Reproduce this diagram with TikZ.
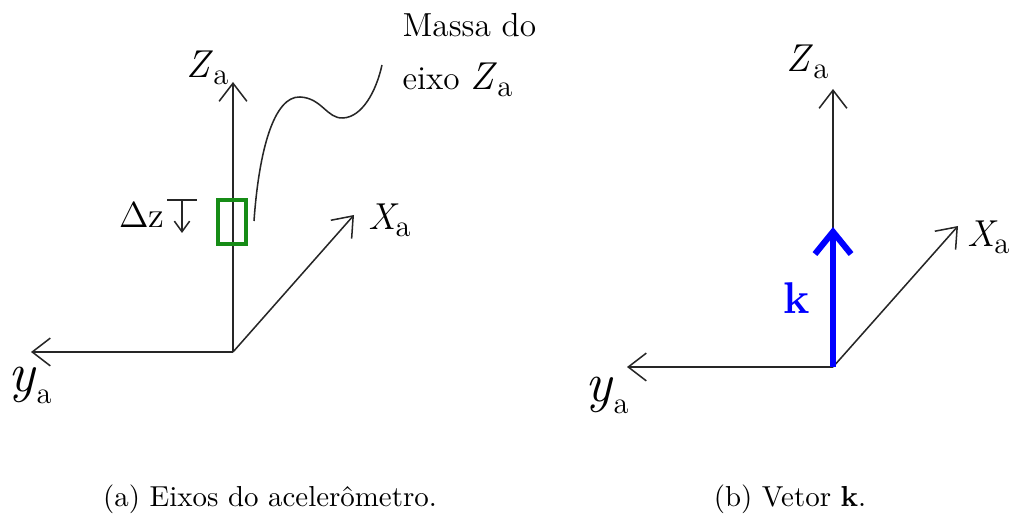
\documentclass[tikz,border=0pt]{standalone}
\usepackage{fontspec}
\usetikzlibrary{arrows.meta}
\definecolor{massgreen}{RGB}{22,140,22}
\definecolor{kblue}{RGB}{0,0,255}
\newcommand\lblsub[1]{\raisebox{-0.5ex}{\fontsize{11}{12}\selectfont #1}}
\newcommand\axlab[1]{{\fontsize{14}{16}\selectfont\textit{#1}}\lblsub{a}}
\newcommand\xaxlab{{\fontsize{13.5}{16}\selectfont\textit{X}}\kern-1.2pt\lblsub{a}}
\begin{document}
\begin{tikzpicture}[x=0.36pt,y=-0.36pt,
  axis/.style={line width=0.55pt, draw=black!85, -{Straight Barb[length=6.5pt,width=10pt]}},
  lbl/.style={inner sep=0pt, font=\fontsize{12}{14}\selectfont},
  ylbl/.style={inner sep=0pt, font=\fontsize{20}{22}\selectfont},
  capt/.style={inner sep=0pt, anchor=base, font=\fontsize{10.4}{12}\selectfont},
  kvec/.style={line width=2.2pt, draw=kblue, -{Straight Barb[length=8pt,width=13pt]}},
  massbox/.style={draw=massgreen, line width=1.45pt},
  lead/.style={line width=0.55pt, draw=black!85}
]
\useasboundingbox (0,0) rectangle (1011,518);

% ---------- panel (a) ----------
\coordinate (oa) at (233,352);
\coordinate (za) at (233,82);
\coordinate (ya) at (31,352);
\coordinate (xa) at (354,215);
\draw[axis] (oa) -- (za);
\draw[axis] (oa) -- (ya);
\draw[axis] (oa) -- (xa);

\node[lbl, anchor=west] (zlabA) at (186,68) {\axlab{Z}};
\node[lbl, anchor=west] (xlabA) at (368,220) {\xaxlab};
\node[ylbl] (ylabA) at (30,385) {\textit{y}\lblsub{a}};

\node[massbox, minimum width=28*0.36pt, minimum height=44*0.36pt, inner sep=0pt] (mass) at (232,222) {};

\node[lbl, anchor=center, font=\fontsize{13}{15}\selectfont] (dz) at (142,215) {Δz};
\coordinate (barL) at (167,200);
\coordinate (barR) at (197,200);
\coordinate (dzs) at (182,200);
\coordinate (dze) at (182,233);
\draw[lead] (barL) -- (barR);
\draw[lead, -{Straight Barb[length=3.8pt,width=5.5pt]}] (dzs) -- (dze);

\coordinate (c0) at (254,221);
\coordinate (c1) at (300,97);
\coordinate (c2) at (343,118);
\coordinate (c3) at (382,65);
\draw[lead] (c0) .. controls (259,150) and (274,96) .. (c1)
  .. controls (322,98) and (327,119) .. (c2)
  .. controls (362,117) and (376,92) .. (c3);

\node[lbl, anchor=west] (massa) at (402,25) {Massa do};
\node[lbl, anchor=west] (eixo) at (402,80) {eixo \axlab{Z}};

\node[capt] (capA) at (270,507) {(a) Eixos do acelerômetro.};

% ---------- panel (b) ----------
\coordinate (ob) at (833,367);
\coordinate (zb) at (833,89);
\coordinate (yb) at (627,367);
\coordinate (xb) at (958,226);
\coordinate (kb) at (833,227);
\draw[axis] (ob) -- (zb);
\draw[axis] (ob) -- (yb);
\draw[axis] (ob) -- (xb);
\draw[kvec] (ob) -- (kb);

\node[lbl, anchor=west] (zlabB) at (786,62) {\axlab{Z}};
\node[lbl, anchor=east] (xlabB) at (1010,237) {\xaxlab};
\node[ylbl] (ylabB) at (607,395) {\textit{y}\lblsub{a}};
\node[inner sep=0pt, text=kblue, font=\bfseries\fontsize{16}{18}\selectfont] (klab) at (797,298) {k};

\node[capt] (capB) at (790,507) {(b) Vetor \textbf{k}.};
\end{tikzpicture}
\end{document}
